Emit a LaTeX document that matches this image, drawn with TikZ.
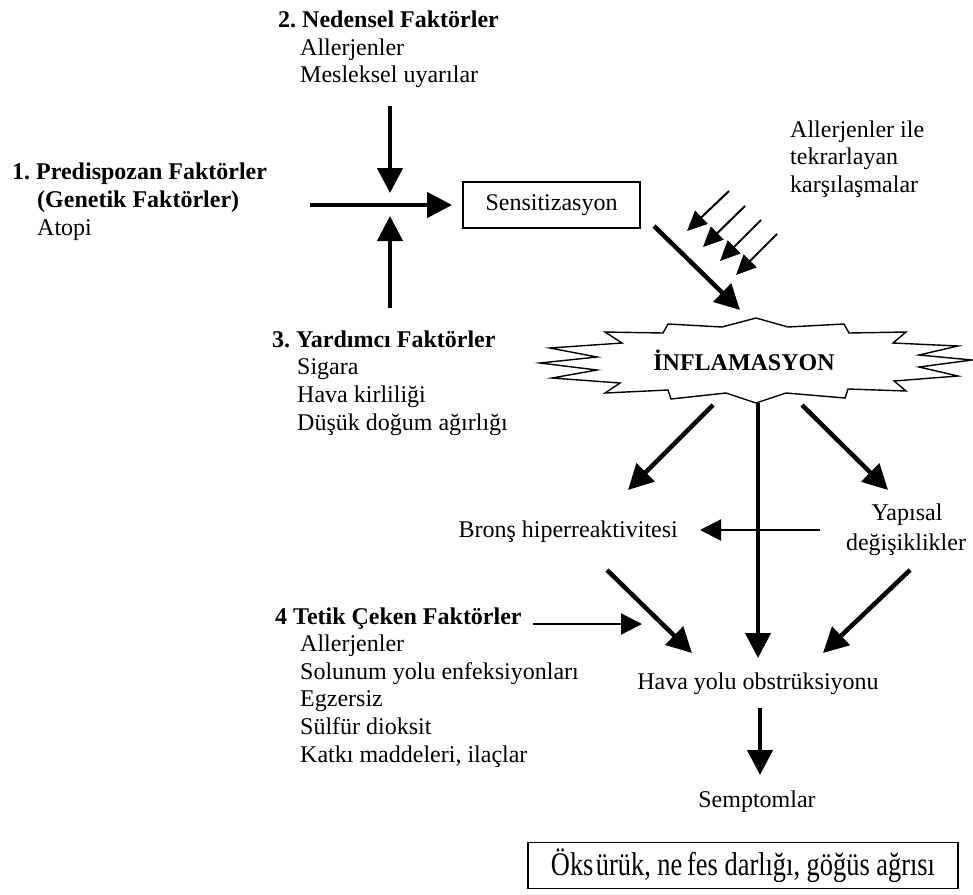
\documentclass[tikz,border=0pt]{standalone}
\usepackage{fontspec}
\setmainfont{Liberation Serif}
\usepackage{graphicx}
\usetikzlibrary{arrows.meta}
\tikzset{
  txt/.style={anchor=base west, inner sep=0pt, font=\fontsize{24}{28}\selectfont\frenchspacing},
  ctxt/.style={anchor=base, inner sep=0pt, font=\fontsize{24}{28}\selectfont},
  hd/.style={anchor=base west, inner sep=0pt, font=\fontsize{24}{28}\selectfont\bfseries\frenchspacing},
  big/.style={line width=4.5pt, -{Triangle[length=25pt,width=25pt]}},
  thinarr/.style={line width=2.2pt, -{Triangle[length=21pt,width=21pt]}},
  smallarr/.style={line width=2pt, -{Triangle[length=20pt,width=18pt]}},
  boxed/.style={draw, line width=1.8pt, inner sep=0pt},
}
\begin{document}
\begin{tikzpicture}[x=1pt,y=-1pt]
\useasboundingbox (0,0) rectangle (973,894);

% group 2
\node[hd] (n2) at (278,27) {2. Nedensel Faktörler};
\node[txt] (n2a) at (300,55) {Allerjenler};
\node[txt] (n2b) at (300,82) {Mesleksel uyarılar};
% group 1
\node[hd] (n1) at (12,179) {1. Predispozan Faktörler};
\node[hd] (n1a) at (37,207) {(Genetik Faktörler)};
\node[txt] (n1b) at (37,235) {Atopi};
% group 3
\node[hd] (n3) at (272,347) {3. Yardımcı Faktörler};
\node[txt] (n3a) at (297,374) {Sigara};
\node[txt] (n3b) at (297,402) {Hava kirliliği};
\node[txt] (n3c) at (297,430) {Düşük doğum ağırlığı};
% group 4
\node[hd] (n4) at (275,624) {4 Tetik Çeken Faktörler};
\node[txt] (n4a) at (300,651) {Allerjenler};
\node[txt] (n4b) at (300,679) {Solunum yolu enfeksiyonları};
\node[txt] (n4c) at (300,706) {Egzersiz};
\node[txt] (n4d) at (300,734) {Sülfür dioksit};
\node[txt] (n4e) at (300,762) {Katkı maddeleri, ilaçlar};

% sensitization box
\node[boxed, minimum width=177pt, minimum height=46pt, font=\fontsize{24}{28}\selectfont] (sens) at (551.5,205) {Sensitizasyon};

% repeated exposure
\node[txt] (rep1) at (790,137) {Allerjenler ile};
\node[txt] (rep2) at (790,164) {tekrarlayan};
\node[txt] (rep3) at (790,192) {karşılaşmalar};

% inflammation star
\draw[line width=1.4pt, fill=white, shift={(756,360)}]
  (0,-42) -- (32,-33) -- (88,-36) -- (93,-27) -- (150,-28) -- (137,-17)
  -- (202,-14) -- (163,-5) -- (216,0) -- (163,7) -- (202,16) -- (138,21)
  -- (150,31) -- (92,29) -- (89,38) -- (30,33) -- (0,43) -- (-30,33)
  -- (-85,39) -- (-88,30) -- (-151,33) -- (-136,23) -- (-204,18) -- (-159,10)
  -- (-216,3) -- (-159,-3) -- (-206,-12) -- (-134,-17) -- (-151,-28)
  -- (-93,-27) -- (-88,-36) -- (-34,-33) -- cycle;
\node[anchor=center, inner sep=0pt, font=\fontsize{24}{28}\selectfont\bfseries] (infl) at (744,360) {İNFLAMASYON};

% middle nodes
\node[anchor=base east, inner sep=0pt, font=\fontsize{24}{28}\selectfont] (bron) at (678,537) {Bronş hiperreaktivitesi};
\node[ctxt] (yap1) at (907,520) {Yapısal};
\node[ctxt] (yap2) at (906,550) {değişiklikler};
\node[ctxt] (hava) at (758,689) {Hava yolu obstrüksiyonu};
\node[ctxt] (semp) at (757,807) {Semptomlar};

% symptoms box
\node[boxed, minimum width=430pt, minimum height=46pt] (sym) at (743,865.5)
  {\scalebox{0.8}[1]{\fontsize{33}{33}\selectfont Öks\hspace{3pt}ürük, ne\hspace{6pt}fes darlığı, göğüs ağrısı}};

% coordinates for arrow ends
\coordinate (d1s) at (390,106); \coordinate (d1e) at (390,193);
\coordinate (h1s) at (310,205);
\coordinate (u1s) at (390,308); \coordinate (u1e) at (390,216);
\coordinate (s1s) at (729,191); \coordinate (s1e) at (687,231);
\coordinate (s2s) at (745,206); \coordinate (s2e) at (703,247);
\coordinate (s3s) at (761,220); \coordinate (s3e) at (720,261);
\coordinate (s4s) at (777,234); \coordinate (s4e) at (736,275);
\coordinate (bgs) at (654,226); \coordinate (bge) at (740,310);
\coordinate (ls) at (713,405); \coordinate (le) at (628,490);
\coordinate (vs) at (758,403); \coordinate (ve) at (758,658);
\coordinate (rs) at (802,405); \coordinate (re) at (888,490);
\coordinate (ths) at (820,530); \coordinate (the) at (700,530);
\coordinate (bs) at (607,570); \coordinate (be) at (692,653);
\coordinate (ys) at (910,570); \coordinate (ye) at (823,653);
\coordinate (ts) at (533,624); \coordinate (te) at (642,624);
\coordinate (ss) at (760,708); \coordinate (se) at (760,775);

\draw[big] (d1s) -- (d1e);
\draw[big] (h1s) -- ([xshift=-10pt]sens.west);
\draw[big] (u1s) -- (u1e);
\draw[smallarr] (s1s) -- (s1e);
\draw[smallarr] (s2s) -- (s2e);
\draw[smallarr] (s3s) -- (s3e);
\draw[smallarr] (s4s) -- (s4e);
\draw[big] (bgs) -- (bge);
\draw[big] (ls) -- (le);
\draw[big] (vs) -- (ve);
\draw[big] (rs) -- (re);
\draw[thinarr] (ths) -- (the);
\draw[big] (bs) -- (be);
\draw[big] (ys) -- (ye);
\draw[thinarr] (ts) -- (te);
\draw[big] (ss) -- (se);
\end{tikzpicture}
\end{document}
